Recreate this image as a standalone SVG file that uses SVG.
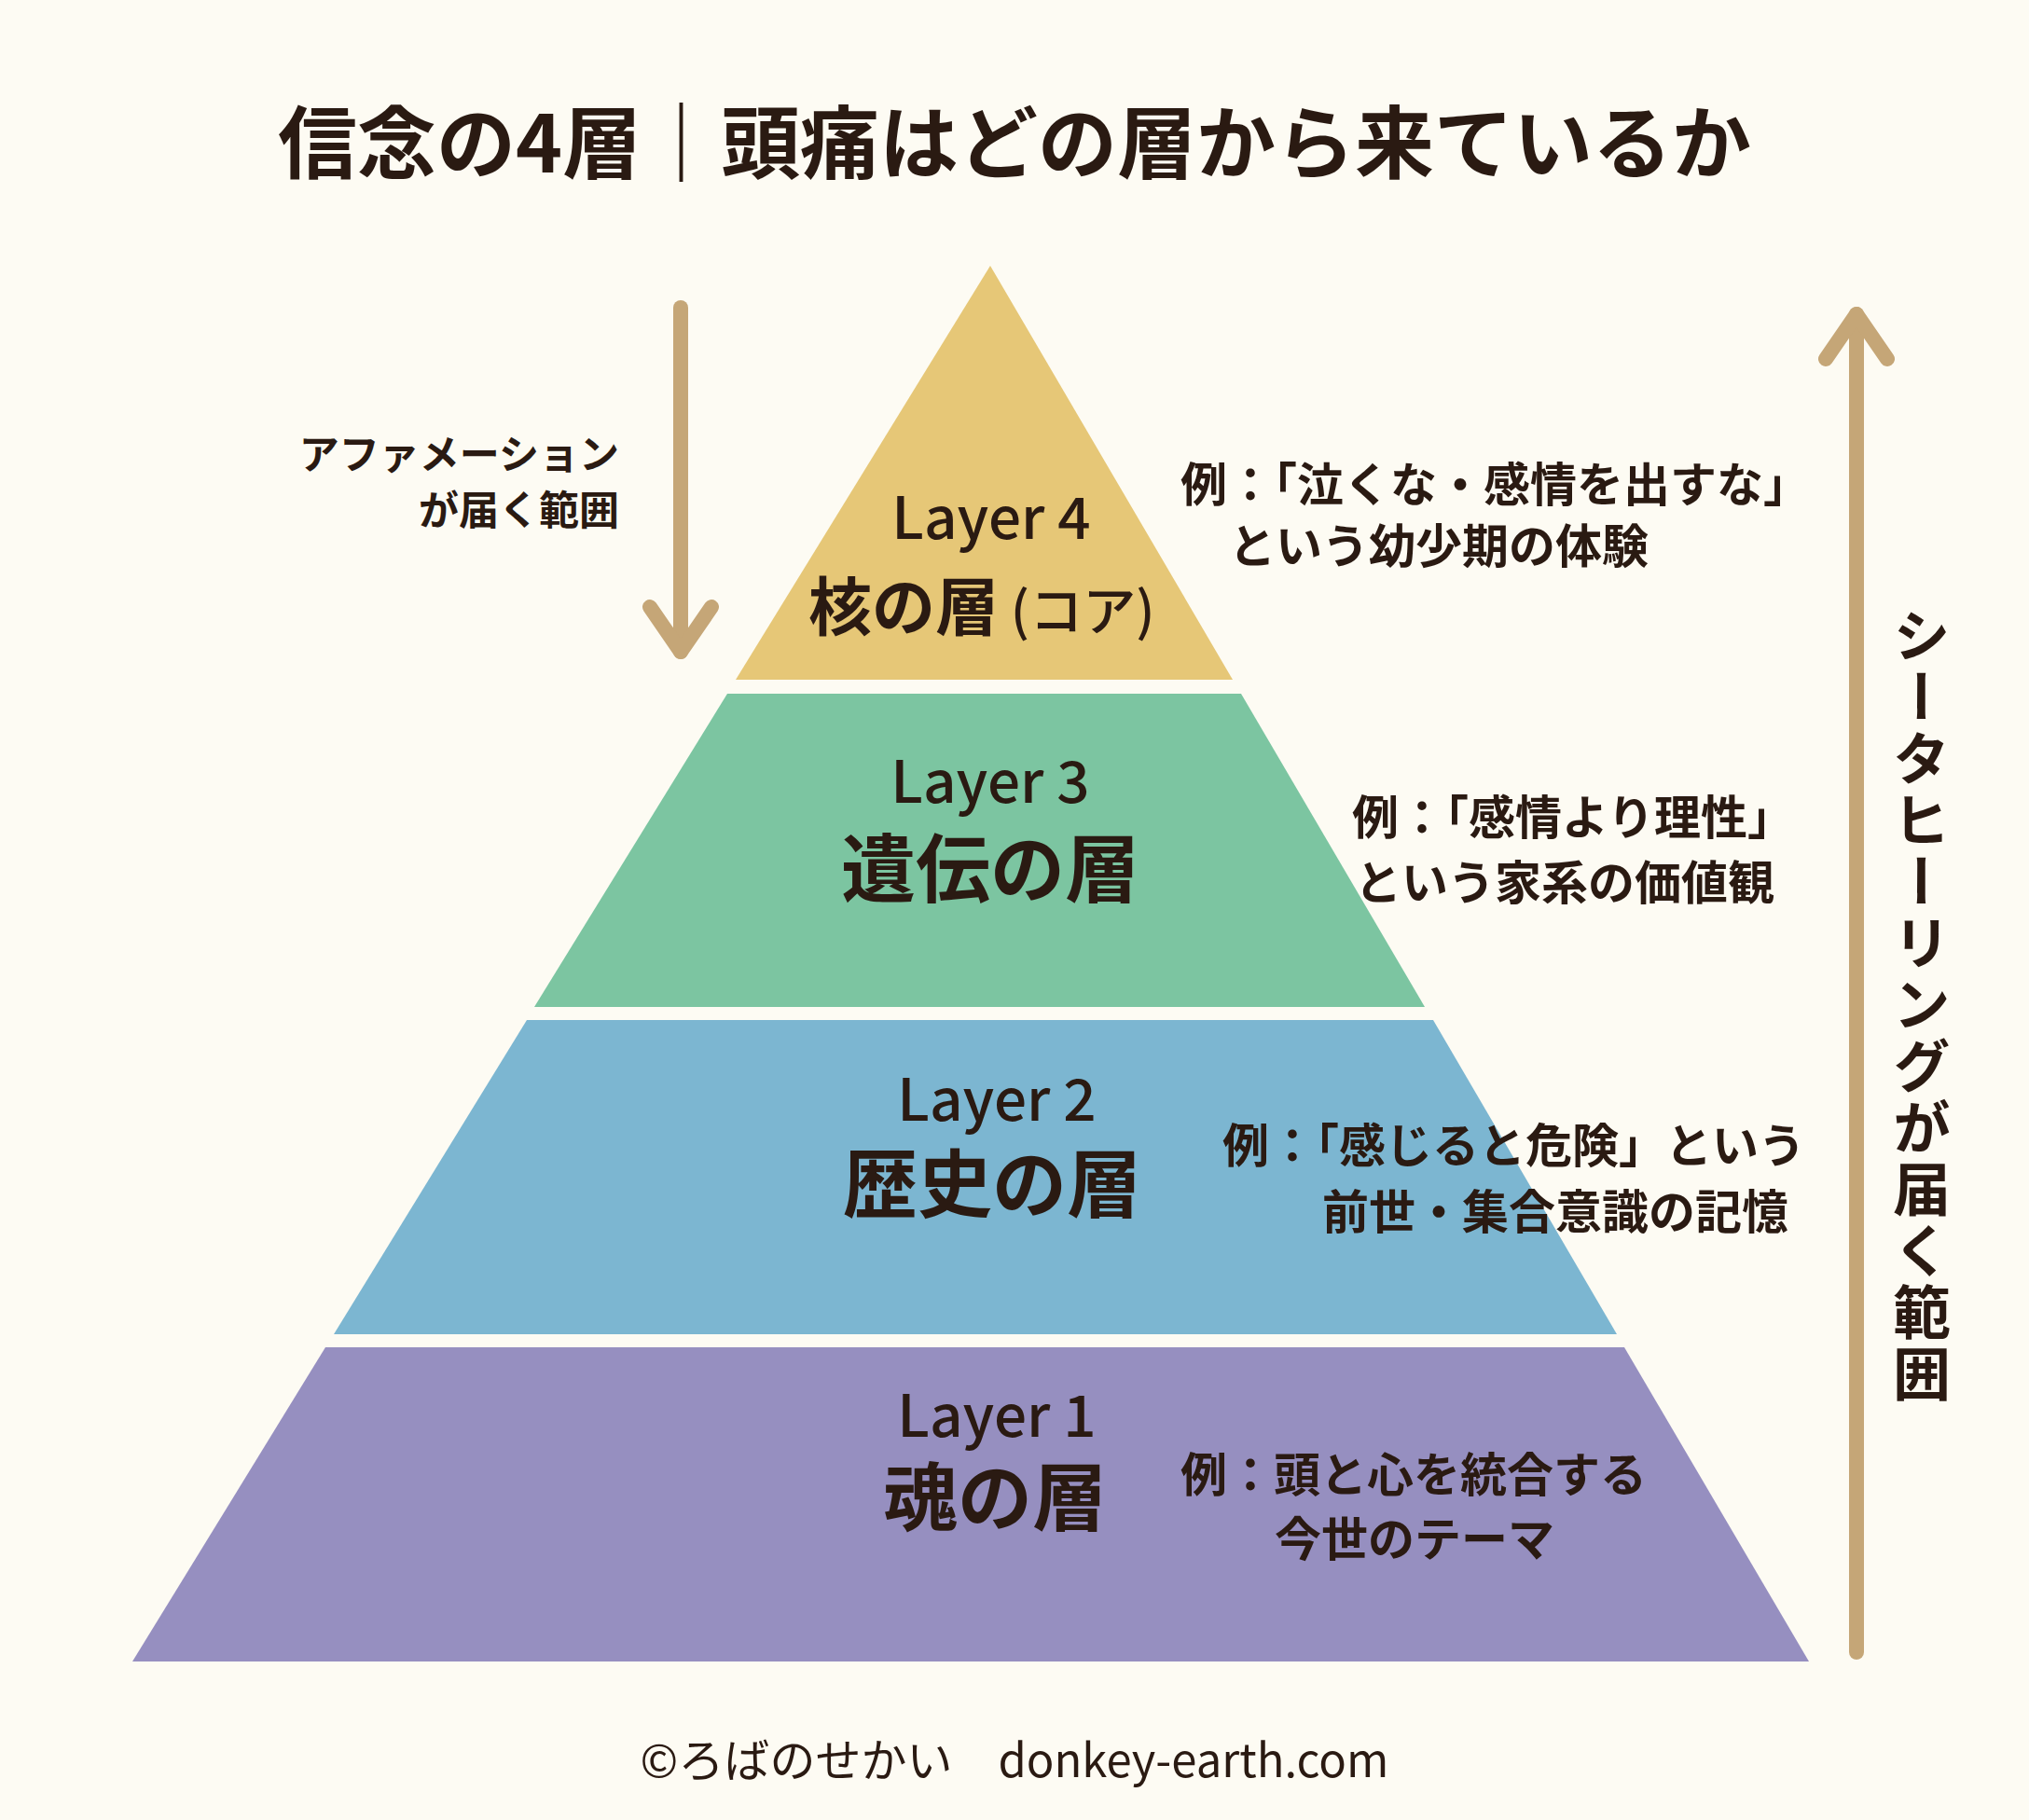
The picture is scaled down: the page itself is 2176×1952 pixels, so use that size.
<svg xmlns="http://www.w3.org/2000/svg" width="2176" height="1952" viewBox="0 0 2176 1952">
<style>
text{font-family:"Noto Sans CJK JP","Noto Sans",sans-serif;fill:#2A1A12}
.title{font-size:85px;font-weight:700}
.lay{font-size:62px;font-weight:500;text-anchor:middle}
.name{font-size:80px;font-weight:700;text-anchor:middle}
.ex{font-size:50px;font-weight:700}
.lbl{font-size:43px;font-weight:700;text-anchor:end}
.vert{font-size:62px;font-weight:700;writing-mode:vertical-rl;letter-spacing:4px}
.foot{font-size:49px;font-weight:400;text-anchor:middle}
.arr{fill:none;stroke:#C5A677;stroke-width:16;stroke-linecap:round;stroke-linejoin:round}
</style>
<defs>
<marker id="chev" markerUnits="userSpaceOnUse" markerWidth="120" markerHeight="120" viewBox="-60 -60 120 120" refX="0" refY="0" orient="auto" overflow="visible">
<path d="M-48,-33 L0,0 L-48,33" fill="none" stroke="#C5A677" stroke-width="16" stroke-linecap="round" stroke-linejoin="round"/>
</marker>
</defs>
<rect width="2176" height="1952" fill="#FDFBF3"/>
<text class="title" x="1088" y="185" text-anchor="middle">信念の4層｜頭痛はどの層から来ているか</text>

<g id="layer4">
<polygon points="1062,285 1322,729 789,729" fill="#E6C777"/>
<text class="lay" x="1063" y="578">Layer 4</text>
<text x="867" y="676" style="font-size:68px;font-weight:700">核の層<tspan style="font-size:57px;font-weight:500"> (コア)</tspan></text>
<text class="ex" x="1266" y="538">例：「泣くな・感情を出すな」</text>
<text class="ex" x="1318" y="604">という幼少期の体験</text>
</g>

<g id="layer3">
<polygon points="780,744 1331,744 1528,1080 573,1080" fill="#7CC5A1"/>
<text class="lay" x="1062" y="861">Layer 3</text>
<text class="name" x="1062" y="961">遺伝の層</text>
<text class="ex" x="1450" y="895">例：「感情より理性」</text>
<text class="ex" x="1453" y="965">という家系の価値観</text>
</g>

<g id="layer2">
<polygon points="565,1094 1537,1094 1734,1431 358,1431" fill="#7CB6D1"/>
<text class="lay" x="1069" y="1202">Layer 2</text>
<text class="name" x="1064" y="1299">歴史の層</text>
<text class="ex" x="1311" y="1247">例：「感じると危険」という</text>
<text class="ex" x="1418" y="1318">前世・集合意識の記憶</text>
</g>

<g id="layer1">
<polygon points="349,1445 1742,1445 1940,1782 142,1782" fill="#968FC0"/>
<text class="lay" x="1069" y="1541">Layer 1</text>
<text class="name" x="1067" y="1635">魂の層</text>
<text class="ex" x="1266" y="1600">例：頭と心を統合する</text>
<text class="ex" x="1367" y="1669">今世のテーマ</text>
</g>

<g id="affirmation-label">
<text class="lbl" x="664" y="503">アファメーション</text>
<text class="lbl" x="664" y="563">が届く範囲</text>
</g>

<g id="theta-label">
<text class="vert" x="2061" y="650">シータヒーリングが届く範囲</text>
</g>

<g id="connectors">
<path class="arr" d="M730,330 L730,699" marker-end="url(#chev)"/>
<path class="arr" d="M1991,1772 L1991,337" marker-end="url(#chev)"/>
</g>

<text class="foot" x="1088" y="1906">©ろばのせかい　donkey-earth.com</text>
</svg>
